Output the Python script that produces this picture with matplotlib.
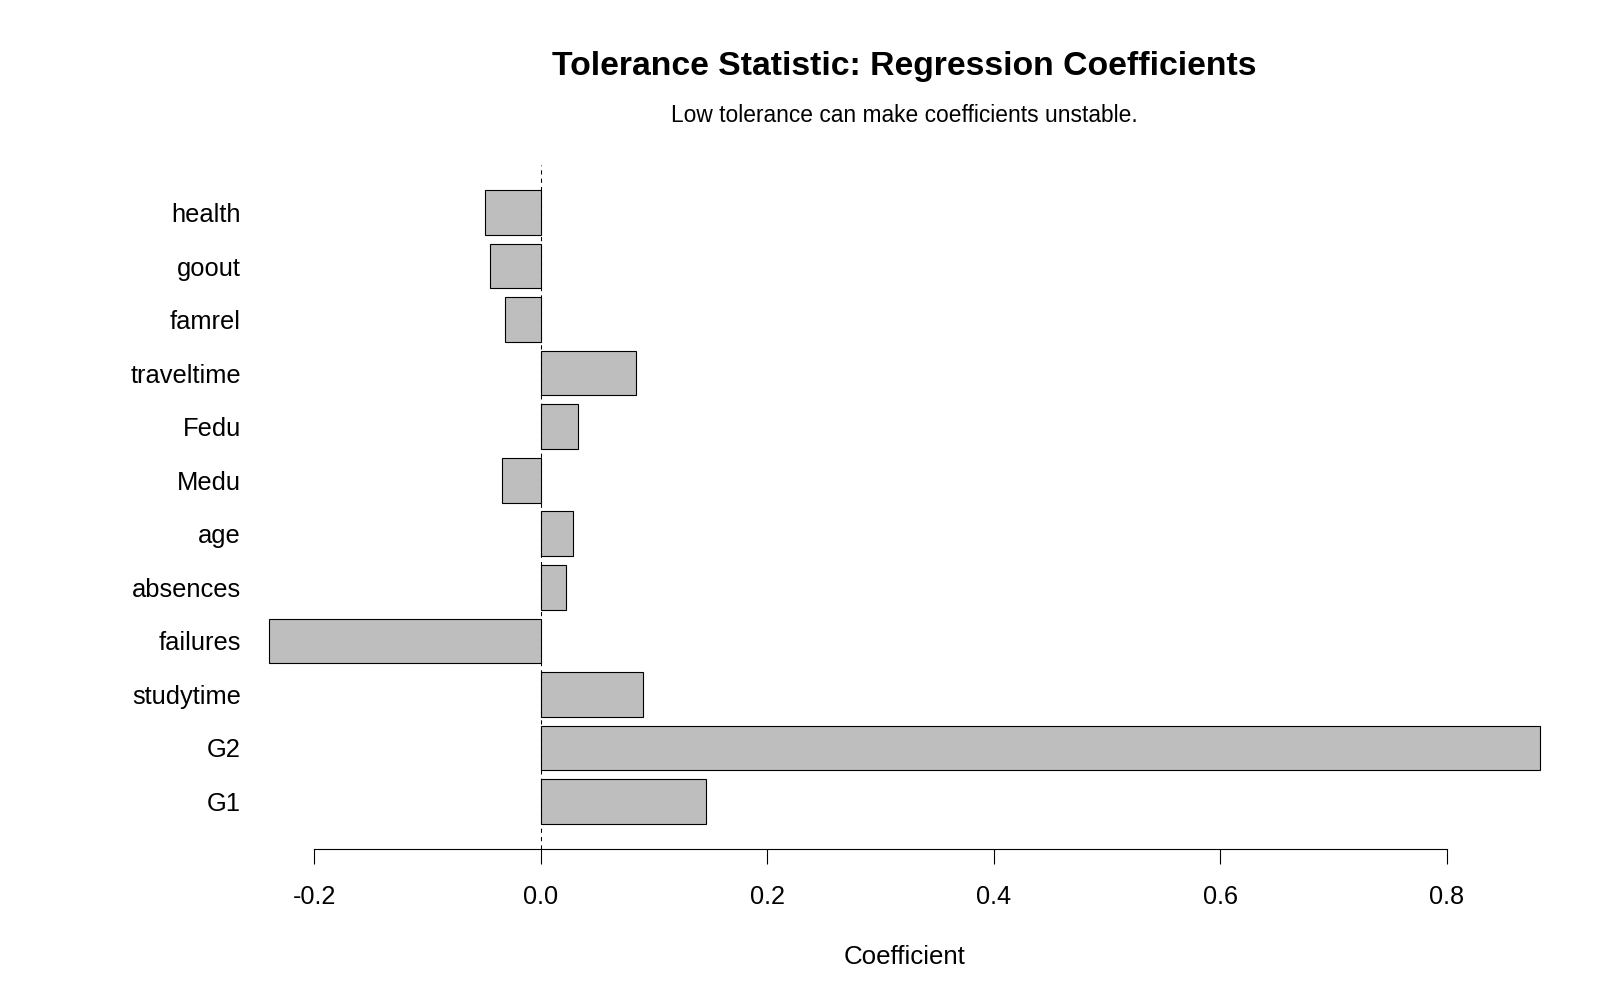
import matplotlib
matplotlib.use("Agg")
import matplotlib.pyplot as plt
import numpy as np

plt.rcParams['font.family'] = ['Liberation Sans', 'DejaVu Sans']

# Data (bottom to top)
variables = ["G1", "G2", "studytime", "failures", "absences", "age",
             "Medu", "Fedu", "traveltime", "famrel", "goout", "health"]
coefficients = [0.146, 0.882, 0.090, -0.2397, 0.0225, 0.0282,
                -0.034, 0.0331, 0.0838, -0.0313, -0.0446, -0.049]
x_ticks = [-0.2, 0.0, 0.2, 0.4, 0.6, 0.8]

title = "Tolerance Statistic: Regression Coefficients"
subtitle = "Low tolerance can make coefficients unstable."
xlabel = "Coefficient"

fig = plt.figure(figsize=(16, 10), dpi=100)
ax = fig.add_axes([0.1366, 0.151, 0.8574, 0.684])

# R-style barplot positions: width 1, space 0.2
pos = np.arange(len(variables)) * 1.2 + 0.7
ax.barh(pos, coefficients, height=1.0, color="#BEBEBE",
        edgecolor="black", linewidth=0.8)

# R-style 4% axis extension
lo = min(min(coefficients), 0)
hi = max(max(coefficients), 0)
ax.set_xlim(lo - 0.04 * (hi - lo), hi + 0.04 * (hi - lo))
ylo, yhi = 0.2, pos[-1] + 0.5
ax.set_ylim(ylo - 0.04 * (yhi - ylo), yhi + 0.04 * (yhi - ylo))

ax.axvline(0, color="black", linewidth=0.75, linestyle=(0, (4, 4)), zorder=3)

for s in ["top", "right", "left"]:
    ax.spines[s].set_visible(False)
ax.spines["bottom"].set_bounds(x_ticks[0], x_ticks[-1])
ax.spines["bottom"].set_linewidth(0.8)

ax.set_xticks(x_ticks)
ax.set_xticklabels([f"{t:.1f}" for t in x_ticks])
ax.tick_params(axis="x", length=10.8, width=0.8, pad=15, labelsize=18.2)

ax.set_yticks(pos)
ax.set_yticklabels(variables)
ax.tick_params(axis="y", length=0, pad=-16.2, labelsize=18.4)

ax.set_xlabel(xlabel, fontsize=18.6)
ax.xaxis.set_label_coords(0.5, -0.158)
ax.xaxis.label.set_va("center")

cx = 0.1366 + 0.8574 / 2
fig.text(cx, 1 - 0.067, title, ha="center", va="center",
         fontsize=24.3, fontweight="bold")
fig.text(cx, 1 - 0.116, subtitle, ha="center", va="center", fontsize=16.4)

fig.savefig("out.png", dpi=100, facecolor="white")
